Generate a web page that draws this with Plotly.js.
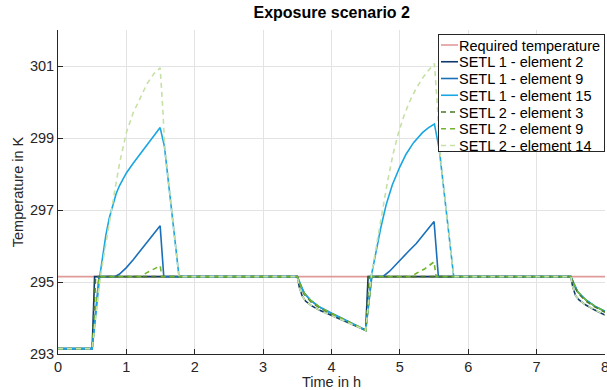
<!DOCTYPE html>
<html>
<head>
<meta charset="utf-8">
<script src="https://cdn.plot.ly/plotly-3.0.1.min.js"></script>
<style>html,body{margin:0;padding:0;background:#fff;}#chart{width:607px;height:390px;}</style>
</head>
<body>
<div id="chart"></div>
<script>
// ---- Data (time in h, temperature in K) ----
const seriesNames = ["Required temperature", "SETL 1 - element 2", "SETL 1 - element 9", "SETL 1 - element 15",
                     "SETL 2 - element 3", "SETL 2 - element 9", "SETL 2 - element 14"];

const timeReq = [0, 8];
const tempReq = [295.15, 295.15];

const timeS1E2 = [0, 0.5, 0.535, 3.5, 3.53, 3.57, 3.62, 3.7, 3.82, 4.0, 4.21, 4.35, 4.5, 4.535, 7.5, 7.53, 7.57, 7.62, 7.72, 7.85, 8.0];
const tempS1E2 = [293.15, 293.15, 295.15, 295.15, 294.85, 294.62, 294.47, 294.35, 294.22, 294.07, 293.90, 293.78, 293.66, 295.15, 295.15, 294.85, 294.62, 294.50, 294.36, 294.22, 294.08];

const timeS1E9 = [0, 0.5, 0.6, 0.83, 0.9, 1.0, 1.1, 1.2, 1.3, 1.4, 1.494, 1.547, 3.5, 3.55, 3.6, 3.7, 3.82, 4.0, 4.21, 4.35, 4.5, 4.59, 4.75, 4.85, 5.0, 5.12, 5.24, 5.37, 5.5, 5.563, 7.5, 7.55, 7.6, 7.72, 7.85, 8.0];
const tempS1E9 = [293.15, 293.15, 295.15, 295.15, 295.22, 295.40, 295.62, 295.86, 296.10, 296.33, 296.56, 295.15, 295.15, 294.90, 294.69, 294.48, 294.31, 294.13, 293.94, 293.80, 293.66, 295.15, 295.15, 295.30, 295.61, 295.84, 296.07, 296.38, 296.68, 295.15, 295.15, 294.92, 294.73, 294.50, 294.33, 294.18];

const timeS1E15 = [0, 0.5, 0.61, 0.65, 0.7, 0.75, 0.8, 0.85, 0.9, 0.95, 1.0, 1.1, 1.2, 1.3, 1.4, 1.494, 1.557, 1.65, 1.77, 3.5, 3.55, 3.6, 3.7, 3.82, 4.0, 4.21, 4.35, 4.5, 4.58, 4.65, 4.72, 4.8, 4.89, 5.0, 5.09, 5.2, 5.33, 5.42, 5.505, 5.577, 5.68, 5.787, 7.5, 7.55, 7.6, 7.72, 7.85, 8.0];
const tempS1E15 = [293.15, 293.15, 295.15, 295.70, 296.30, 296.78, 297.15, 297.45, 297.68, 297.87, 298.03, 298.30, 298.55, 298.80, 299.05, 299.29, 298.76, 297.20, 295.15, 295.15, 294.90, 294.69, 294.48, 294.31, 294.13, 293.94, 293.80, 293.66, 295.15, 295.85, 296.50, 297.15, 297.70, 298.20, 298.55, 298.87, 299.15, 299.29, 299.39, 298.67, 296.94, 295.15, 295.15, 294.92, 294.73, 294.50, 294.33, 294.18];

const timeS2E3 = [0, 0.5, 0.55, 3.5, 3.55, 3.6, 3.7, 3.82, 4.0, 4.21, 4.35, 4.5, 4.55, 7.5, 7.55, 7.6, 7.72, 7.85, 8.0];
const tempS2E3 = [293.15, 293.15, 295.15, 295.15, 294.88, 294.66, 294.45, 294.29, 294.11, 293.93, 293.79, 293.66, 295.15, 295.15, 294.90, 294.70, 294.47, 294.31, 294.16];

const timeS2E9 = [0, 0.5, 0.6, 1.2, 1.3, 1.4, 1.494, 1.52, 3.5, 3.55, 3.6, 3.7, 3.82, 4.0, 4.21, 4.35, 4.5, 4.59, 5.16, 5.25, 5.36, 5.5, 5.53, 7.5, 7.55, 7.6, 7.72, 7.85, 8.0];
const tempS2E9 = [293.15, 293.15, 295.15, 295.15, 295.26, 295.36, 295.45, 295.15, 295.15, 294.90, 294.69, 294.48, 294.31, 294.13, 293.94, 293.80, 293.66, 295.15, 295.15, 295.25, 295.36, 295.56, 295.15, 295.15, 294.92, 294.73, 294.50, 294.33, 294.18];

const timeS2E14 = [0, 0.5, 0.62, 0.7, 0.8, 0.9, 1.0, 1.1, 1.2, 1.3, 1.4, 1.494, 1.53, 1.56, 1.6, 1.7, 1.77, 3.5, 3.53, 3.57, 3.62, 3.7, 3.82, 4.0, 4.21, 4.35, 4.5, 4.58, 4.66, 4.74, 4.82, 4.9, 4.98, 5.06, 5.14, 5.23, 5.33, 5.42, 5.505, 5.55, 5.58, 5.68, 5.787, 7.5, 7.53, 7.57, 7.62, 7.72, 7.85, 8.0];
const tempS2E14 = [293.15, 293.15, 295.15, 296.10, 297.20, 298.30, 299.15, 299.70, 300.10, 300.50, 300.78, 300.95, 299.90, 298.80, 298.10, 296.40, 295.15, 295.15, 294.85, 294.62, 294.47, 294.35, 294.22, 294.07, 293.90, 293.78, 293.66, 295.15, 296.05, 296.95, 297.80, 298.55, 299.15, 299.62, 300.00, 300.35, 300.66, 300.88, 301.07, 299.87, 298.70, 296.94, 295.15, 295.15, 294.85, 294.62, 294.50, 294.36, 294.22, 294.08];

const yTickVals = [293, 295, 297, 299, 301];
const xTickVals = [0, 1, 2, 3, 4, 5, 6, 7, 8];

// ---- Styles ----
const colors = ["#e09a9a", "#0e3a6b", "#1a6fb8", "#19a6e3", "#4a7a26", "#72b52c", "#c6e0a6"];
const dashes = ["solid", "solid", "solid", "solid", "5px,4px", "5px,4px", "5px,4px"];

const xs = [timeReq, timeS1E2, timeS1E9, timeS1E15, timeS2E3, timeS2E9, timeS2E14];
const ys = [tempReq, tempS1E2, tempS1E9, tempS1E15, tempS2E3, tempS2E9, tempS2E14];

const traces = seriesNames.map((n, i) => ({
  x: xs[i], y: ys[i], name: n, type: "scatter", mode: "lines",
  line: {color: colors[i], width: 1.6, dash: dashes[i]}
}));

const axisCommon = {
  showline: true, linecolor: "#262626", linewidth: 1,
  ticks: "inside", ticklen: 5, tickcolor: "#262626", tickwidth: 1,
  showgrid: true, gridcolor: "#e3e3e3", gridwidth: 1,
  zeroline: false, mirror: false,
  tickfont: {size: 14.5, color: "#262626"},
  ticklabeloverflow: "allow"
};

const layout = {
  width: 607, height: 390,
  margin: {l: 58, r: 2, t: 30, b: 36},
  paper_bgcolor: "#ffffff", plot_bgcolor: "#ffffff",
  font: {family: "Liberation Sans, Arial, Helvetica, sans-serif", size: 14.5, color: "#262626"},
  title: {text: "<b>Exposure scenario 2</b>", x: 0.5465, xanchor: "center", y: 0.969, yanchor: "middle",
          font: {size: 16, color: "#000000"}},
  xaxis: Object.assign({}, axisCommon, {
    range: [0, 8], tickvals: xTickVals, ticktext: xTickVals.map(String),
    title: {text: "Time in h", font: {size: 14.5, color: "#262626"}, standoff: 6}
  }),
  yaxis: Object.assign({}, axisCommon, {
    range: [293, 302], tickvals: yTickVals, ticktext: yTickVals.map(String),
    title: {text: "Temperature in K", font: {size: 14.5, color: "#262626"}, standoff: 2}
  }),
  showlegend: true,
  legend: {
    x: 1, xanchor: "right", y: 0.99, yanchor: "top",
    bgcolor: "#ffffff", bordercolor: "#262626", borderwidth: 1,
    font: {size: 14.5, color: "#000000"}, tracegroupgap: 0, itemwidth: 30
  }
};

// Compact the legend box to the reference geometry (short line samples, tight rows)
function compactLegend() {
  const leg = document.querySelector("g.legend");
  if (!leg) return;
  const W = 167, H = 118, left = 438, top = 34, rowStep = 16.75, firstRow = 11;
  leg.setAttribute("transform", "translate(" + left + "," + top + ")");
  const bg = leg.querySelector("rect.bg");
  if (bg) { bg.setAttribute("width", W - 1); bg.setAttribute("height", H - 1); }
  leg.querySelectorAll("g.traces").forEach((g, i) => {
    g.setAttribute("transform", "translate(0," + (firstRow + i * rowStep) + ")");
    g.querySelectorAll("path.js-line").forEach(p => p.setAttribute("d", "M3,0h17"));
    const t = g.querySelector("text.legendtext");
    if (t) t.setAttribute("x", 21);
  });
  document.querySelectorAll("clipPath").forEach(cp => {
    if (cp.id && cp.id.indexOf("legend") >= 0) {
      const r = cp.querySelector("rect");
      if (r) { r.setAttribute("width", W); r.setAttribute("height", H); r.setAttribute("x", 0); r.setAttribute("y", 0); }
    }
  });
}

Plotly.newPlot("chart", traces, layout, {displayModeBar: false, staticPlot: true}).then(compactLegend);
</script>
</body>
</html>
